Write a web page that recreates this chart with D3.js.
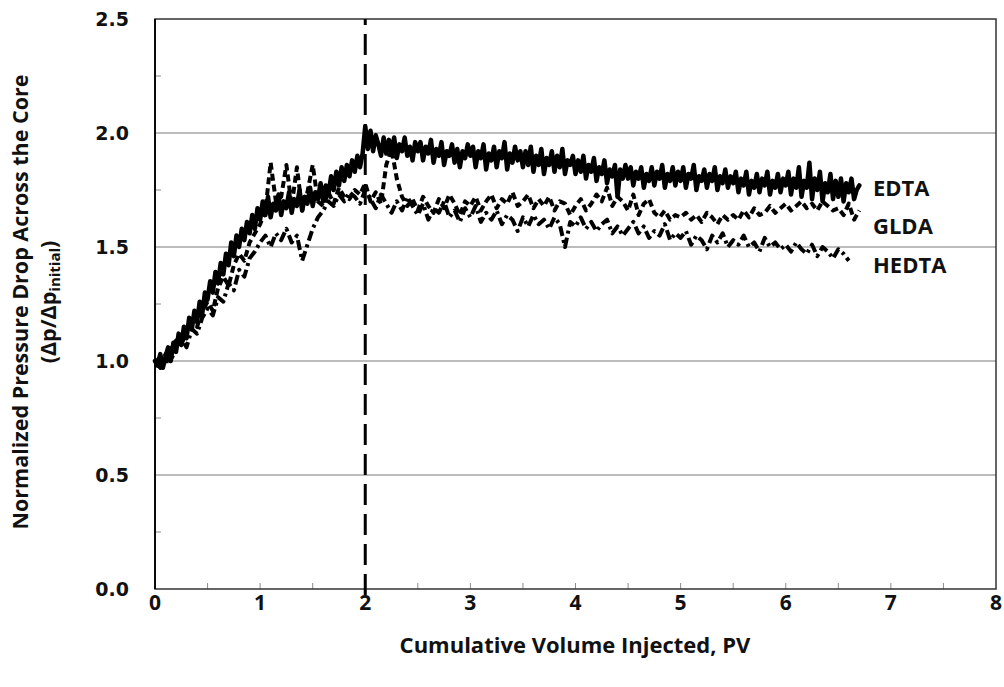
<!DOCTYPE html>
<html>
<head>
<meta charset="utf-8">
<script src="https://cdn.jsdelivr.net/npm/d3@7"></script>
<style>
  html, body { margin: 0; padding: 0; background: #fff; }
  svg { display: block; }
  .tick-y { font-family: "DejaVu Sans", Verdana, sans-serif; font-weight: bold; font-size: 19px; fill: #111; }
  .tick-x { font-family: "Open Sans", sans-serif; font-weight: bold; font-size: 21px; fill: #111; }
  .axis-title { font-family: "Open Sans", sans-serif; font-weight: bold; font-size: 22px; fill: #111; }
  .y-title { font-size: 21.5px; }
  .series-label { font-family: "Open Sans", "Noto Sans", sans-serif; font-weight: bold; font-size: 22px; fill: #111; }
</style>
</head>
<body>
<svg id="chart" width="1004" height="687"></svg>
<script>
// Normalized pressure drop vs. cumulative pore volumes injected (three chelating agents)

const xTicks = [0, 1, 2, 3, 4, 5, 6, 7, 8];
const yTicks = [0.0, 0.5, 1.0, 1.5, 2.0, 2.5];
const seriesNames = ["EDTA", "GLDA", "HEDTA"];
const switchPV = 2;   // dashed marker line

// EDTA, sampled every 0.025 PV from 0
const edtaStep = 0.025;
const edta = [
  1.00,0.98,1.03,0.97,1.02,1.06,1.00,1.08,1.04,1.12,1.07,1.15,1.10,1.19,1.14,1.22,1.17,1.26,1.21,1.30,
  1.27,1.35,1.30,1.39,1.34,1.43,1.38,1.47,1.42,1.52,1.46,1.55,1.50,1.58,1.53,1.61,1.56,1.64,1.58,1.67,
  1.62,1.70,1.64,1.72,1.63,1.69,1.66,1.73,1.64,1.70,1.67,1.74,1.65,1.71,1.68,1.75,1.66,1.72,1.69,1.76,
  1.68,1.74,1.71,1.78,1.70,1.77,1.73,1.81,1.75,1.83,1.77,1.85,1.79,1.86,1.81,1.88,1.83,1.90,1.85,1.91,
  2.03,1.93,2.01,1.92,1.99,1.95,1.90,1.98,1.91,1.97,1.92,1.98,1.89,1.95,1.92,1.98,1.90,1.94,1.88,1.96,
  1.92,1.96,1.88,1.94,1.91,1.97,1.87,1.93,1.90,1.96,1.86,1.92,1.90,1.95,1.87,1.93,1.85,1.92,1.89,1.95,
  1.90,1.94,1.85,1.92,1.89,1.95,1.84,1.91,1.88,1.94,1.85,1.92,1.89,1.96,1.84,1.91,1.87,1.94,1.88,1.92,
  1.85,1.92,1.86,1.94,1.83,1.90,1.86,1.93,1.82,1.89,1.86,1.92,1.83,1.90,1.85,1.93,1.82,1.88,1.86,1.90,
  1.82,1.88,1.83,1.90,1.80,1.86,1.83,1.89,1.79,1.85,1.82,1.88,1.78,1.84,1.81,1.86,1.72,1.84,1.80,1.86,
  1.80,1.85,1.77,1.83,1.80,1.85,1.76,1.82,1.79,1.85,1.77,1.83,1.80,1.86,1.76,1.82,1.79,1.85,1.77,1.83,
  1.79,1.85,1.76,1.82,1.80,1.86,1.75,1.81,1.79,1.84,1.76,1.82,1.79,1.85,1.75,1.81,1.78,1.84,1.76,1.81,
  1.78,1.83,1.74,1.80,1.77,1.83,1.73,1.79,1.76,1.82,1.74,1.80,1.77,1.83,1.73,1.79,1.76,1.82,1.74,1.80,
  1.77,1.83,1.73,1.80,1.76,1.85,1.72,1.79,1.76,1.87,1.71,1.80,1.75,1.83,1.70,1.78,1.74,1.82,1.71,1.79,
  1.72,1.80,1.70,1.78,1.74,1.80,1.71,1.75,1.77
];

// GLDA, sampled every 0.05 PV from 0
const gldaStep = 0.05;
const glda = [
  0.99,1.02,0.98,1.05,1.09,1.07,1.13,1.18,1.15,1.22,
  1.26,1.22,1.32,1.37,1.33,1.42,1.47,1.44,1.52,1.56,
  1.60,1.66,1.87,1.70,1.72,1.86,1.68,1.85,1.66,1.74,
  1.86,1.70,1.68,1.74,1.69,1.76,1.72,1.71,1.75,1.73,
  1.78,1.70,1.74,1.69,1.86,1.93,1.80,1.72,1.68,1.71,
  1.66,1.72,1.68,1.65,1.71,1.67,1.73,1.69,1.64,1.70,
  1.68,1.72,1.66,1.70,1.73,1.67,1.71,1.69,1.74,1.68,
  1.70,1.73,1.67,1.71,1.68,1.72,1.66,1.70,1.69,1.64,
  1.68,1.71,1.66,1.69,1.73,1.70,1.76,1.68,1.72,1.70,
  1.66,1.73,1.64,1.69,1.71,1.65,1.63,1.66,1.62,1.64,
  1.63,1.65,1.62,1.64,1.61,1.65,1.63,1.60,1.64,1.62,
  1.64,1.62,1.66,1.63,1.67,1.64,1.65,1.68,1.65,1.67,
  1.69,1.66,1.68,1.70,1.67,1.69,1.66,1.70,1.68,1.66,
  1.67,1.64,1.69,1.62,1.66
];

// HEDTA, sampled every 0.05 PV from 0
const hedtaStep = 0.05;
const hedta = [
  1.00,0.97,1.03,1.00,1.06,1.10,1.06,1.14,1.12,1.19,
  1.23,1.20,1.28,1.26,1.34,1.31,1.40,1.37,1.45,1.48,
  1.52,1.55,1.50,1.56,1.53,1.58,1.52,1.55,1.44,1.51,
  1.58,1.63,1.66,1.70,1.68,1.73,1.70,1.74,1.72,1.69,
  1.75,1.71,1.67,1.73,1.69,1.65,1.70,1.66,1.72,1.68,
  1.64,1.69,1.62,1.67,1.65,1.70,1.63,1.66,1.61,1.67,
  1.63,1.68,1.61,1.65,1.62,1.66,1.60,1.64,1.62,1.57,
  1.63,1.59,1.64,1.60,1.62,1.58,1.63,1.60,1.50,1.61,
  1.59,1.63,1.58,1.61,1.57,1.60,1.62,1.56,1.59,1.55,
  1.58,1.61,1.56,1.59,1.54,1.57,1.55,1.60,1.53,1.56,
  1.54,1.57,1.51,1.55,1.53,1.49,1.55,1.52,1.56,1.50,
  1.53,1.51,1.55,1.50,1.52,1.48,1.54,1.50,1.52,1.49,
  1.51,1.48,1.52,1.49,1.47,1.51,1.46,1.50,1.48,1.45,
  1.49,1.47,1.44
];

const W = 1004, H = 687;
const plot = { left: 155, right: 996, top: 19, bottom: 589 };

const svg = d3.select("#chart");
const x = d3.scaleLinear().domain([0, 8]).range([plot.left, plot.right]);
const y = d3.scaleLinear().domain([0, 2.5]).range([plot.bottom, plot.top]);

// horizontal gridlines
svg.append("g")
  .selectAll("line")
  .data(yTicks.filter(v => v > 0 && v < 2.5))
  .join("line")
  .attr("x1", plot.left).attr("x2", plot.right)
  .attr("y1", d => y(d)).attr("y2", d => y(d))
  .attr("stroke", "#a6a6a6").attr("stroke-width", 1.3);

// minor ticks on the y axis (inward)
const yMinor = d3.range(0.25, 2.5, 0.5);
svg.append("g")
  .selectAll("line")
  .data(yMinor)
  .join("line")
  .attr("x1", plot.left).attr("x2", plot.left + 6)
  .attr("y1", d => y(d)).attr("y2", d => y(d))
  .attr("stroke", "#8c8c8c").attr("stroke-width", 1);

// ticks on the x axis (inward, every 0.5)
const xMinor = d3.range(0.5, 8, 0.5);
svg.append("g")
  .selectAll("line")
  .data(xMinor)
  .join("line")
  .attr("x1", d => x(d)).attr("x2", d => x(d))
  .attr("y1", plot.bottom).attr("y2", plot.bottom - 6)
  .attr("stroke", "#8c8c8c").attr("stroke-width", 1);

// frame
svg.append("rect")
  .attr("x", plot.left).attr("y", plot.top)
  .attr("width", plot.right - plot.left).attr("height", plot.bottom - plot.top)
  .attr("fill", "none").attr("stroke", "#333").attr("stroke-width", 1.5);
svg.append("line")
  .attr("x1", plot.left).attr("x2", plot.left)
  .attr("y1", plot.top).attr("y2", plot.bottom)
  .attr("stroke", "#000").attr("stroke-width", 1.8);

// tick labels
svg.append("g")
  .selectAll("text")
  .data(yTicks)
  .join("text")
  .attr("class", "tick-y")
  .attr("x", plot.left - 26)
  .attr("y", d => y(d))
  .attr("dy", "0.36em")
  .attr("text-anchor", "end")
  .text(d => d3.format(".1f")(d));

svg.append("g")
  .selectAll("text")
  .data(xTicks)
  .join("text")
  .attr("class", "tick-x")
  .attr("x", d => x(d))
  .attr("y", plot.bottom + 21)
  .attr("text-anchor", "middle")
  .text(d => d);

// axis titles
svg.append("text")
  .attr("class", "axis-title")
  .attr("x", 575)
  .attr("y", 653)
  .attr("text-anchor", "middle")
  .text("Cumulative Volume Injected, PV");

const yt = svg.append("g").attr("transform", "translate(0,302) rotate(-90)");
yt.append("text")
  .attr("class", "axis-title y-title")
  .attr("x", 0).attr("y", 28)
  .attr("text-anchor", "middle")
  .text("Normalized Pressure Drop Across the Core");
const yt2 = yt.append("text")
  .attr("class", "axis-title y-title")
  .attr("x", 0).attr("y", 56)
  .attr("text-anchor", "middle");
yt2.append("tspan").text("(\u0394p/\u0394p");
yt2.append("tspan").attr("font-size", "15px").attr("dy", 4).text("initial");
yt2.append("tspan").attr("dy", -4).text(")");

// dashed marker at the switch volume
svg.append("line")
  .attr("x1", x(switchPV)).attr("x2", x(switchPV))
  .attr("y1", y(0) + 6).attr("y2", y(2.5))
  .attr("stroke", "#000").attr("stroke-width", 3)
  .attr("stroke-dasharray", "21,9");

// series
const toPoints = (vals, step) => vals.map((v, i) => [i * step, v]);
const line = d3.line().x(d => x(d[0])).y(d => y(d[1]));

const seriesData = [
  { name: seriesNames[2], pts: toPoints(hedta, hedtaStep), dash: "10,4,3,4", width: 4, cap: "butt" },
  { name: seriesNames[1], pts: toPoints(glda, gldaStep), dash: "7,4", width: 4, cap: "butt" },
  { name: seriesNames[0], pts: toPoints(edta, edtaStep), dash: null, width: 4.5, cap: "round" }
];

svg.append("g")
  .selectAll("path")
  .data(seriesData)
  .join("path")
  .attr("d", d => line(d.pts))
  .attr("fill", "none")
  .attr("stroke", "#000")
  .attr("stroke-width", d => d.width)
  .attr("stroke-linejoin", "round")
  .attr("stroke-linecap", d => d.cap)
  .attr("stroke-dasharray", d => d.dash);

// series labels
const labelY = [1.76, 1.59, 1.42];
svg.append("g")
  .selectAll("text")
  .data(seriesNames)
  .join("text")
  .attr("class", "series-label")
  .attr("x", 873)
  .attr("y", (d, i) => y(labelY[i]))
  .attr("dy", "0.36em")
  .text(d => d);
</script>
</body>
</html>
